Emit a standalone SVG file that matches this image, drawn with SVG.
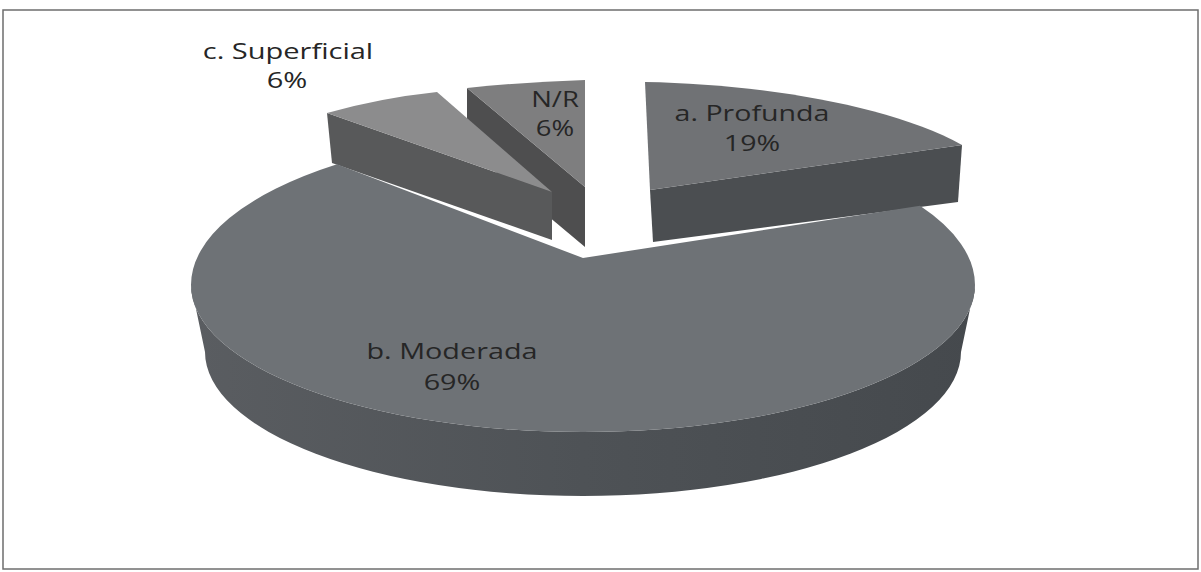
<svg xmlns="http://www.w3.org/2000/svg" width="1201" height="572" viewBox="0 0 1201 572">
<style>
.lbl{font-family:"Open Sans","Liberation Sans",sans-serif;font-size:22.5px;fill:#262626;text-anchor:middle}
.frame{fill:#ffffff;stroke:#6e6e6e;stroke-width:1.5}
</style>
<defs>
<linearGradient id="sideGrad" x1="0" y1="0" x2="1" y2="0">
<stop offset="0" stop-color="#5a5d61"/>
<stop offset="0.5" stop-color="#4e5256"/>
<stop offset="1" stop-color="#45494d"/>
</linearGradient>
</defs>
<rect class="frame" x="3" y="10" width="1195" height="559"/>

<g id="slice-profunda">
<path d="M650,190 L962,145 L958,202 L653,242 Z" fill="#4b4e51"/>
<path d="M650,190 L645,82 C760,84 890,105 962,145 Z" fill="#707275"/>
<text class="lbl" transform="translate(752,121) scale(1.27,1)">a. Profunda</text>
<text class="lbl" transform="translate(752,151) scale(1.27,1)">19%</text>
</g>

<g id="slice-nr">
<path d="M467,88 L585,187 L585,247 L467,148 Z" fill="#4e4e4f"/>
<path d="M585,187 L467,88 Q525,82 585,80 Z" fill="#7e7e7f"/>
<text class="lbl" transform="translate(555,107) scale(1.22,1)">N/R</text>
<text class="lbl" transform="translate(555,136) scale(1.22,1)">6%</text>
</g>

<g id="slice-superficial">
<path d="M327,113 L552,192 L552,240 L332,163 Z" fill="#58595a"/>
<path d="M327,113 Q380,98 437,92 L552,192 Z" fill="#8c8c8d"/>
</g>

<g id="slice-moderada">
<path d="M191,285 A392,147 0 0 0 975,285 L961,352 A378,144 0 0 1 205,352 Z" fill="url(#sideGrad)"/>
<path d="M583,258 L920,205.83 A392,155 0 0 1 975,285 A392,147 0 0 1 191,285 A392,155 0 0 1 337,164.32 Z" fill="#6e7276"/>
<text class="lbl" transform="translate(452,359) scale(1.28,1)">b. Moderada</text>
<text class="lbl" transform="translate(452,390) scale(1.28,1)">69%</text>
</g>

<g id="label-superficial">
<text class="lbl" transform="translate(288,59) scale(1.29,1)">c. Superficial</text>
<text class="lbl" transform="translate(287,88) scale(1.29,1)">6%</text>
</g>
</svg>
